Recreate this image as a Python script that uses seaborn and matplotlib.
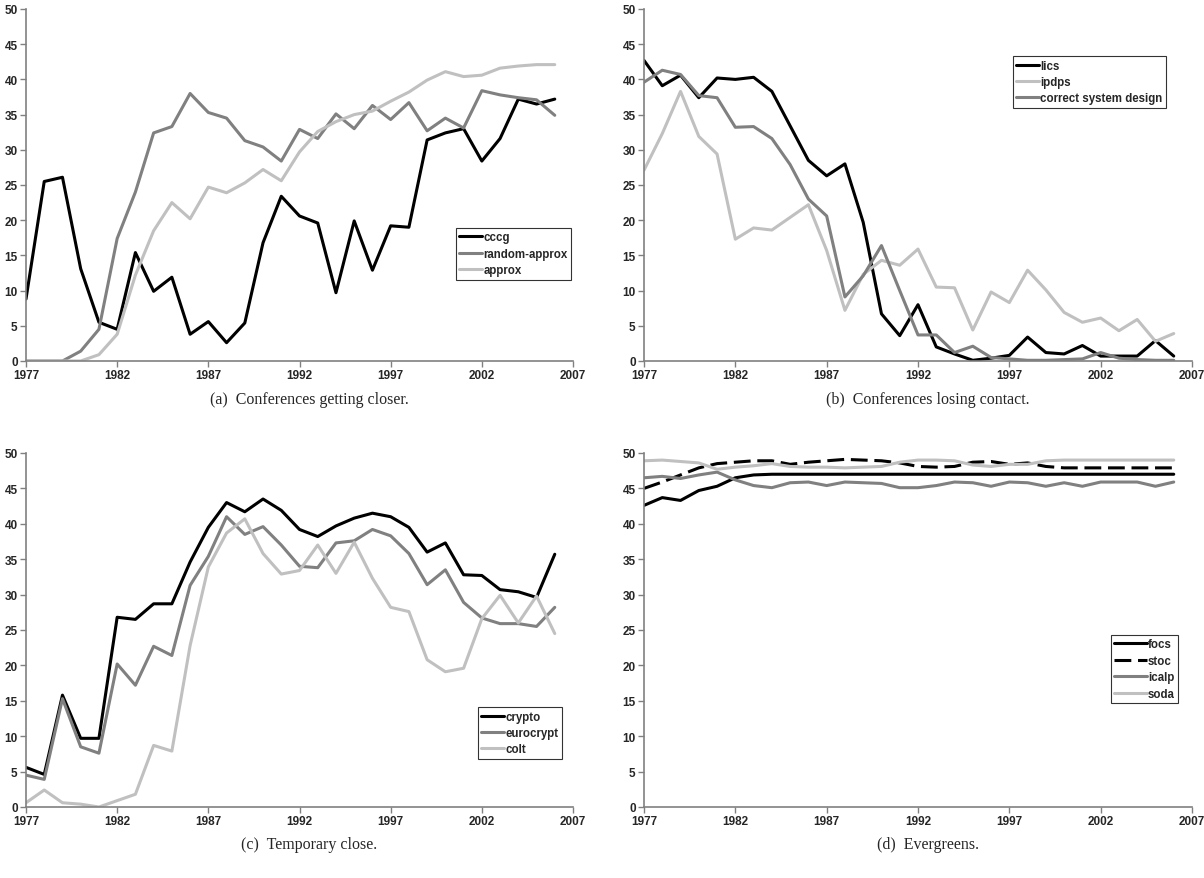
import pandas as pd
import numpy as np
import matplotlib
matplotlib.use("Agg")
import matplotlib.pyplot as plt
import seaborn as sns

years = list(range(1977, 2007))

# (a) conferences getting closer
cccg = [8.8, 25.5, 26.1, 13.1, 5.5, 4.5, 15.4, 9.9, 11.9, 3.8, 5.6, 2.6, 5.4, 16.8, 23.4,
        20.6, 19.6, 9.7, 19.9, 12.9, 19.2, 19.0, 31.4, 32.4, 33.0, 28.4, 31.6, 37.2, 36.5, 37.2]
random_approx = [0, 0, 0, 1.4, 4.5, 17.4, 24.0, 32.4, 33.3, 38.0, 35.3, 34.5, 31.3, 30.4, 28.4,
                 32.9, 31.6, 35.1, 33.0, 36.3, 34.3, 36.7, 32.7, 34.5, 33.1, 38.4, 37.8, 37.4, 37.1, 34.9]
approx = [0, 0, 0, 0, 0.9, 3.8, 12.2, 18.5, 22.5, 20.2, 24.7, 23.9, 25.3, 27.2, 25.6,
          29.7, 32.6, 34.0, 35.0, 35.5, 36.9, 38.2, 39.9, 41.1, 40.4, 40.6, 41.6, 41.9, 42.1, 42.1]

# (b) conferences losing contact
lics = [42.7, 39.1, 40.6, 37.4, 40.2, 40.0, 40.3, 38.3, 33.4, 28.5, 26.3, 28.0, 19.7, 6.7, 3.6,
        8.0, 2.0, 1.0, 0.1, 0.4, 0.8, 3.4, 1.2, 1.0, 2.2, 0.7, 0.7, 0.7, 2.9, 0.7]
ipdps = [27.1, 32.3, 38.3, 31.9, 29.4, 17.3, 18.9, 18.6, 20.4, 22.2, 15.7, 7.2, 12.3, 14.3, 13.6,
         15.9, 10.5, 10.4, 4.4, 9.8, 8.3, 12.9, 10.1, 6.9, 5.5, 6.1, 4.3, 5.9, 2.8, 3.9]
csd = [39.6, 41.3, 40.7, 37.7, 37.4, 33.2, 33.3, 31.6, 27.9, 23.0, 20.6, 9.1, 12.1, 16.4, 10.0,
       3.7, 3.7, 1.2, 2.1, 0.5, 0.3, 0.1, 0.1, 0.2, 0.3, 1.2, 0.4, 0.2, 0.1, 0.1]

# (c) temporary close
crypto = [5.6, 4.6, 15.8, 9.7, 9.7, 26.8, 26.5, 28.7, 28.7, 34.6, 39.5, 43.0, 41.7, 43.5, 41.9,
          39.2, 38.2, 39.7, 40.8, 41.5, 41.0, 39.5, 36.0, 37.3, 32.8, 32.7, 30.7, 30.4, 29.6, 35.7]
eurocrypt = [4.5, 3.9, 15.3, 8.5, 7.6, 20.2, 17.2, 22.7, 21.4, 31.3, 35.4, 41.0, 38.5, 39.6, 37.0,
             34.0, 33.8, 37.3, 37.6, 39.2, 38.3, 35.8, 31.4, 33.5, 28.9, 26.7, 25.9, 25.9, 25.5, 28.2]
colt = [0.6, 2.4, 0.6, 0.4, 0.0, 0.9, 1.8, 8.7, 7.9, 22.8, 33.9, 38.7, 40.7, 35.8, 32.9,
        33.4, 37.0, 33.0, 37.4, 32.3, 28.2, 27.6, 20.8, 19.1, 19.6, 26.6, 29.9, 26.0, 29.8, 24.5]

# (d) evergreens
focs = [42.6, 43.7, 43.3, 44.7, 45.3, 46.5, 46.9, 47.0, 47.0, 47.0, 47.0, 47.0, 47.0, 47.0, 47.0,
        47.0, 47.0, 47.0, 47.0, 47.0, 47.0, 47.0, 47.0, 47.0, 47.0, 47.0, 47.0, 47.0, 47.0, 47.0]
stoc = [45.0, 45.9, 46.9, 47.9, 48.5, 48.7, 48.9, 48.9, 48.4, 48.7, 48.9, 49.1, 49.0, 48.9, 48.6,
        48.1, 48.0, 48.1, 48.7, 48.8, 48.4, 48.6, 48.1, 47.9, 47.9, 47.9, 47.9, 47.9, 47.9, 47.9]
icalp = [46.5, 46.7, 46.4, 46.9, 47.3, 46.2, 45.4, 45.1, 45.8, 45.9, 45.4, 45.9, 45.8, 45.7, 45.1,
         45.1, 45.4, 45.9, 45.8, 45.3, 45.9, 45.8, 45.3, 45.8, 45.3, 45.9, 45.9, 45.9, 45.3, 45.9]
soda = [48.9, 49.0, 48.8, 48.6, 47.7, 48.0, 48.2, 48.5, 48.1, 48.0, 48.0, 47.9, 48.0, 48.1, 48.7,
        49.0, 49.0, 48.9, 48.3, 48.1, 48.4, 48.4, 48.9, 49.0, 49.0, 49.0, 49.0, 49.0, 49.0, 49.0]

captions = ["(a)  Conferences getting closer.", "(b)  Conferences losing contact.",
            "(c)  Temporary close.", "(d)  Evergreens."]

BLACK, GREY, LIGHT = "#000000", "#808080", "#c0c0c0"

# series, colours, legend anchor (axes fraction), legend handle length
panels = [
    ({"cccg": cccg, "random-approx": random_approx, "approx": approx},
     [BLACK, GREY, LIGHT], (0.786, 0.378), 2.0),
    ({"lics": lics, "ipdps": ipdps, "correct system design": csd},
     [BLACK, LIGHT, GREY], (0.673, 0.866), 2.0),
    ({"crypto": crypto, "eurocrypt": eurocrypt, "colt": colt},
     [BLACK, GREY, LIGHT], (0.826, 0.282), 2.0),
    ({"focs": focs, "stoc": stoc, "icalp": icalp, "soda": soda},
     [BLACK, BLACK, GREY, LIGHT], (0.852, 0.486), 2.8),
]

sns.set_theme(style="white")
plt.rcParams['font.family'] = ['Liberation Sans', 'DejaVu Sans']

W, H = 1204, 879
fig = plt.figure(figsize=(W / 100, H / 100), dpi=100)

# axes boxes in pixels: left, right, top, bottom
boxes = [(26, 573, 10, 362), (644, 1192, 10, 362),
         (26, 573, 454, 808), (644, 1192, 454, 808)]
cap_y = [400, 400, 845, 845]

for i, (series, cols, legpos, hlen) in enumerate(panels):
    l, r, t, b = boxes[i]
    ax = fig.add_axes([l / W, 1 - b / H, (r - l) / W, (b - t) / H])
    df = pd.DataFrame({"year": np.tile(years, len(series)),
                       "value": np.concatenate([v for v in series.values()]),
                       "conf": np.repeat(list(series.keys()), len(years))})
    names = list(series.keys())
    dashes = {n: "" for n in names}
    if "stoc" in dashes:
        dashes["stoc"] = (5.5, 2.2)
    sns.lineplot(data=df, x="year", y="value", hue="conf", style="conf",
                 hue_order=names, style_order=names,
                 palette=dict(zip(names, cols)), dashes=dashes,
                 linewidth=2.2, ax=ax, legend=True)
    ax.set_xlim(1977, 2007)
    ax.set_ylim(0, 50)
    ax.set_xticks(range(1977, 2008, 5))
    ax.set_yticks(range(0, 51, 5))
    ax.set_xlabel("")
    ax.set_ylabel("")
    for s in ["top", "right"]:
        ax.spines[s].set_visible(False)
    for s in ["left", "bottom"]:
        ax.spines[s].set_color(GREY)
        ax.spines[s].set_linewidth(1.2)
    ax.tick_params(axis="both", which="major", direction="out", length=4,
                   width=1, color=GREY, labelsize=8.5, pad=2, bottom=True, left=True)
    for lab in ax.get_xticklabels() + ax.get_yticklabels():
        lab.set_fontweight("bold")
    h, lb = ax.get_legend_handles_labels()
    leg = ax.legend(h, lb, loc="upper left", bbox_to_anchor=legpos, borderaxespad=0,
                    frameon=True, fancybox=False, edgecolor="black",
                    prop={"weight": "bold", "size": 8.3}, handlelength=hlen,
                    handletextpad=0.1, labelspacing=0.38, borderpad=0.3)
    leg.get_frame().set_linewidth(0.8)
    fig.text(((l + r) / 2 + 10) / W, 1 - cap_y[i] / H, captions[i], ha="center", va="center",
             fontsize=11.5, family=["Liberation Serif", "DejaVu Serif"])

fig.savefig("out.png", dpi=100)
